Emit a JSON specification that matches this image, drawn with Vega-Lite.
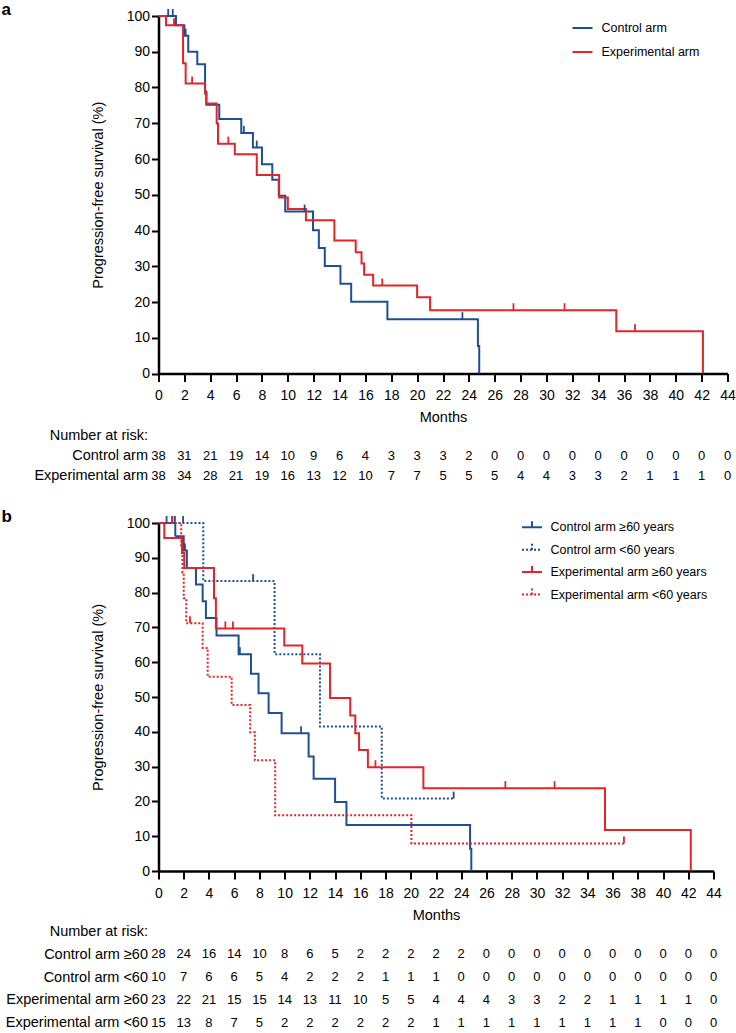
{
  "$schema": "https://vega.github.io/schema/vega-lite/v6.json",
  "background": "white",
  "autosize": {"type": "pad"},
  "padding": {"left": 1.5, "top": 0, "right": 0, "bottom": 0},
  "config": {
    "view": {"stroke": null},
    "font": "Liberation Sans",
    "axis": {
      "grid": false, "domainColor": "black", "domainWidth": 2.5,
      "tickColor": "black", "tickWidth": 2, "tickSize": 7,
      "labelColor": "black", "labelFontSize": 14, "labelFont": "Liberation Sans",
      "titleColor": "black", "titleFont": "Liberation Sans", "titleFontSize": 14.5, "titleFontWeight": "normal",
      "labelOverlap": false, "labelFlush": false, "labelBound": false
    },
    "title": {"font": "Liberation Sans", "fontSize": 17, "fontWeight": "bold", "color": "black", "anchor": "start", "frame": "group"},
    "legend": {"labelFont": "Liberation Sans", "labelFontSize": 12.5, "labelColor": "black", "padding": 0}
  },
  "datasets": {
    "a_curve": [
      {"g": "Control arm", "t": 0, "s": 100}, {"g": "Control arm", "t": 1.35, "s": 97.4}, {"g": "Control arm", "t": 2.0, "s": 94.5},
      {"g": "Control arm", "t": 2.3, "s": 90.0}, {"g": "Control arm", "t": 3.0, "s": 86.5}, {"g": "Control arm", "t": 3.6, "s": 78.9},
      {"g": "Control arm", "t": 3.7, "s": 75.2}, {"g": "Control arm", "t": 4.7, "s": 71.2}, {"g": "Control arm", "t": 6.4, "s": 67.3},
      {"g": "Control arm", "t": 7.3, "s": 63.2}, {"g": "Control arm", "t": 8.0, "s": 58.5}, {"g": "Control arm", "t": 8.8, "s": 54.2},
      {"g": "Control arm", "t": 9.3, "s": 49.7}, {"g": "Control arm", "t": 9.8, "s": 45.3}, {"g": "Control arm", "t": 11.95, "s": 40.1},
      {"g": "Control arm", "t": 12.4, "s": 35.1}, {"g": "Control arm", "t": 12.86, "s": 30.1}, {"g": "Control arm", "t": 14.07, "s": 25.1},
      {"g": "Control arm", "t": 14.9, "s": 20.1}, {"g": "Control arm", "t": 17.7, "s": 15.2}, {"g": "Control arm", "t": 24.7, "s": 7.7},
      {"g": "Control arm", "t": 24.8, "s": 0},
      {"g": "Experimental arm", "t": 0, "s": 100}, {"g": "Experimental arm", "t": 0.58, "s": 97.4}, {"g": "Experimental arm", "t": 1.9, "s": 86.8},
      {"g": "Experimental arm", "t": 2.1, "s": 81.1}, {"g": "Experimental arm", "t": 3.6, "s": 78.3}, {"g": "Experimental arm", "t": 3.7, "s": 75.5},
      {"g": "Experimental arm", "t": 4.5, "s": 69.9}, {"g": "Experimental arm", "t": 4.6, "s": 64.3}, {"g": "Experimental arm", "t": 5.9, "s": 61.3},
      {"g": "Experimental arm", "t": 7.6, "s": 55.5}, {"g": "Experimental arm", "t": 9.33, "s": 49.2}, {"g": "Experimental arm", "t": 10.0, "s": 46.0},
      {"g": "Experimental arm", "t": 11.4, "s": 42.9}, {"g": "Experimental arm", "t": 13.6, "s": 37.2}, {"g": "Experimental arm", "t": 15.25, "s": 33.9},
      {"g": "Experimental arm", "t": 15.7, "s": 30.8}, {"g": "Experimental arm", "t": 15.9, "s": 27.6}, {"g": "Experimental arm", "t": 16.6, "s": 24.6},
      {"g": "Experimental arm", "t": 20.0, "s": 21.3}, {"g": "Experimental arm", "t": 21.0, "s": 17.7}, {"g": "Experimental arm", "t": 35.4, "s": 11.8},
      {"g": "Experimental arm", "t": 42.1, "s": 0}
    ],
    "a_cens": [
      {"g": "Control arm", "t": 0.75, "s": 100}, {"g": "Control arm", "t": 1.1, "s": 100}, {"g": "Control arm", "t": 2.1, "s": 94.5},
      {"g": "Control arm", "t": 6.6, "s": 67.3}, {"g": "Control arm", "t": 7.6, "s": 63.2}, {"g": "Control arm", "t": 11.3, "s": 45.3},
      {"g": "Control arm", "t": 23.5, "s": 15.2},
      {"g": "Experimental arm", "t": 1.2, "s": 97.4}, {"g": "Experimental arm", "t": 2.6, "s": 81.1}, {"g": "Experimental arm", "t": 5.4, "s": 64.3},
      {"g": "Experimental arm", "t": 17.3, "s": 24.6}, {"g": "Experimental arm", "t": 27.45, "s": 17.7}, {"g": "Experimental arm", "t": 31.4, "s": 17.7},
      {"g": "Experimental arm", "t": 36.85, "s": 11.8}
    ],
    "a_risk": [
      {"r": "Control arm", "t": 0, "n": 38}, {"r": "Control arm", "t": 2, "n": 31}, {"r": "Control arm", "t": 4, "n": 21}, {"r": "Control arm", "t": 6, "n": 19},
      {"r": "Control arm", "t": 8, "n": 14}, {"r": "Control arm", "t": 10, "n": 10}, {"r": "Control arm", "t": 12, "n": 9}, {"r": "Control arm", "t": 14, "n": 6},
      {"r": "Control arm", "t": 16, "n": 4}, {"r": "Control arm", "t": 18, "n": 3}, {"r": "Control arm", "t": 20, "n": 3}, {"r": "Control arm", "t": 22, "n": 3},
      {"r": "Control arm", "t": 24, "n": 2}, {"r": "Control arm", "t": 26, "n": 0}, {"r": "Control arm", "t": 28, "n": 0}, {"r": "Control arm", "t": 30, "n": 0},
      {"r": "Control arm", "t": 32, "n": 0}, {"r": "Control arm", "t": 34, "n": 0}, {"r": "Control arm", "t": 36, "n": 0}, {"r": "Control arm", "t": 38, "n": 0},
      {"r": "Control arm", "t": 40, "n": 0}, {"r": "Control arm", "t": 42, "n": 0}, {"r": "Control arm", "t": 44, "n": 0},
      {"r": "Experimental arm", "t": 0, "n": 38}, {"r": "Experimental arm", "t": 2, "n": 34}, {"r": "Experimental arm", "t": 4, "n": 28}, {"r": "Experimental arm", "t": 6, "n": 21},
      {"r": "Experimental arm", "t": 8, "n": 19}, {"r": "Experimental arm", "t": 10, "n": 16}, {"r": "Experimental arm", "t": 12, "n": 13}, {"r": "Experimental arm", "t": 14, "n": 12},
      {"r": "Experimental arm", "t": 16, "n": 10}, {"r": "Experimental arm", "t": 18, "n": 7}, {"r": "Experimental arm", "t": 20, "n": 7}, {"r": "Experimental arm", "t": 22, "n": 5},
      {"r": "Experimental arm", "t": 24, "n": 5}, {"r": "Experimental arm", "t": 26, "n": 5}, {"r": "Experimental arm", "t": 28, "n": 4}, {"r": "Experimental arm", "t": 30, "n": 4},
      {"r": "Experimental arm", "t": 32, "n": 3}, {"r": "Experimental arm", "t": 34, "n": 3}, {"r": "Experimental arm", "t": 36, "n": 2}, {"r": "Experimental arm", "t": 38, "n": 1},
      {"r": "Experimental arm", "t": 40, "n": 1}, {"r": "Experimental arm", "t": 42, "n": 1}, {"r": "Experimental arm", "t": 44, "n": 0}
    ],
    "b_curve": [
      {"g": "Control arm ≥60 years", "t": 0, "s": 100}, {"g": "Control arm ≥60 years", "t": 1.33, "s": 96.2}, {"g": "Control arm ≥60 years", "t": 2.0, "s": 92.1},
      {"g": "Control arm ≥60 years", "t": 2.25, "s": 87.1}, {"g": "Control arm ≥60 years", "t": 2.97, "s": 82.3}, {"g": "Control arm ≥60 years", "t": 3.5, "s": 77.5},
      {"g": "Control arm ≥60 years", "t": 3.76, "s": 72.7}, {"g": "Control arm ≥60 years", "t": 4.6, "s": 67.7}, {"g": "Control arm ≥60 years", "t": 6.35, "s": 62.3},
      {"g": "Control arm ≥60 years", "t": 7.33, "s": 56.7}, {"g": "Control arm ≥60 years", "t": 7.93, "s": 51.1}, {"g": "Control arm ≥60 years", "t": 8.73, "s": 45.4},
      {"g": "Control arm ≥60 years", "t": 9.76, "s": 39.6}, {"g": "Control arm ≥60 years", "t": 11.9, "s": 32.9}, {"g": "Control arm ≥60 years", "t": 12.3, "s": 26.5},
      {"g": "Control arm ≥60 years", "t": 14.0, "s": 19.8}, {"g": "Control arm ≥60 years", "t": 14.9, "s": 13.2}, {"g": "Control arm ≥60 years", "t": 24.7, "s": 6.4},
      {"g": "Control arm ≥60 years", "t": 24.8, "s": 0},
      {"g": "Control arm <60 years", "t": 0, "s": 100}, {"g": "Control arm <60 years", "t": 3.55, "s": 83.3}, {"g": "Control arm <60 years", "t": 9.2, "s": 62.3},
      {"g": "Control arm <60 years", "t": 12.8, "s": 41.5}, {"g": "Control arm <60 years", "t": 17.7, "s": 20.8}, {"g": "Control arm <60 years", "t": 23.4, "s": 20.8},
      {"g": "Experimental arm ≥60 years", "t": 0, "s": 100}, {"g": "Experimental arm ≥60 years", "t": 0.46, "s": 95.7}, {"g": "Experimental arm ≥60 years", "t": 1.86, "s": 91.4},
      {"g": "Experimental arm ≥60 years", "t": 2.04, "s": 87.1}, {"g": "Experimental arm ≥60 years", "t": 4.4, "s": 78.4}, {"g": "Experimental arm ≥60 years", "t": 4.55, "s": 69.7},
      {"g": "Experimental arm ≥60 years", "t": 9.97, "s": 64.8}, {"g": "Experimental arm ≥60 years", "t": 11.4, "s": 59.6}, {"g": "Experimental arm ≥60 years", "t": 13.6, "s": 49.7},
      {"g": "Experimental arm ≥60 years", "t": 15.2, "s": 44.7}, {"g": "Experimental arm ≥60 years", "t": 15.6, "s": 39.6}, {"g": "Experimental arm ≥60 years", "t": 15.9, "s": 34.8},
      {"g": "Experimental arm ≥60 years", "t": 16.6, "s": 29.8}, {"g": "Experimental arm ≥60 years", "t": 21.0, "s": 23.8}, {"g": "Experimental arm ≥60 years", "t": 35.4, "s": 11.8},
      {"g": "Experimental arm ≥60 years", "t": 42.2, "s": 0},
      {"g": "Experimental arm <60 years", "t": 0, "s": 100}, {"g": "Experimental arm <60 years", "t": 1.8, "s": 92.9}, {"g": "Experimental arm <60 years", "t": 1.9, "s": 85.7},
      {"g": "Experimental arm <60 years", "t": 2.0, "s": 78.4}, {"g": "Experimental arm <60 years", "t": 2.2, "s": 71.2}, {"g": "Experimental arm <60 years", "t": 3.5, "s": 64.1},
      {"g": "Experimental arm <60 years", "t": 3.9, "s": 55.8}, {"g": "Experimental arm <60 years", "t": 5.8, "s": 47.7}, {"g": "Experimental arm <60 years", "t": 7.27, "s": 39.9},
      {"g": "Experimental arm <60 years", "t": 7.64, "s": 31.8}, {"g": "Experimental arm <60 years", "t": 9.25, "s": 16.0}, {"g": "Experimental arm <60 years", "t": 20.05, "s": 7.9},
      {"g": "Experimental arm <60 years", "t": 36.9, "s": 7.9}
    ],
    "b_cens": [
      {"g": "Control arm ≥60 years", "t": 1.1, "s": 100}, {"g": "Control arm ≥60 years", "t": 2.1, "s": 92.1}, {"g": "Control arm ≥60 years", "t": 6.45, "s": 62.3},
      {"g": "Control arm ≥60 years", "t": 11.3, "s": 39.6},
      {"g": "Control arm <60 years", "t": 0.64, "s": 100}, {"g": "Control arm <60 years", "t": 1.3, "s": 100}, {"g": "Control arm <60 years", "t": 1.95, "s": 100},
      {"g": "Control arm <60 years", "t": 7.5, "s": 83.3}, {"g": "Control arm <60 years", "t": 23.4, "s": 20.8},
      {"g": "Experimental arm ≥60 years", "t": 5.3, "s": 69.7}, {"g": "Experimental arm ≥60 years", "t": 5.9, "s": 69.7}, {"g": "Experimental arm ≥60 years", "t": 17.2, "s": 29.8},
      {"g": "Experimental arm ≥60 years", "t": 27.5, "s": 23.8}, {"g": "Experimental arm ≥60 years", "t": 31.4, "s": 23.8},
      {"g": "Experimental arm <60 years", "t": 1.07, "s": 100}, {"g": "Experimental arm <60 years", "t": 2.5, "s": 71.2}, {"g": "Experimental arm <60 years", "t": 36.9, "s": 7.9}
    ],
    "b_risk": [
      {"r": "Control arm ≥60", "t": 0, "n": 28}, {"r": "Control arm ≥60", "t": 2, "n": 24}, {"r": "Control arm ≥60", "t": 4, "n": 16}, {"r": "Control arm ≥60", "t": 6, "n": 14},
      {"r": "Control arm ≥60", "t": 8, "n": 10}, {"r": "Control arm ≥60", "t": 10, "n": 8}, {"r": "Control arm ≥60", "t": 12, "n": 6}, {"r": "Control arm ≥60", "t": 14, "n": 5},
      {"r": "Control arm ≥60", "t": 16, "n": 2}, {"r": "Control arm ≥60", "t": 18, "n": 2}, {"r": "Control arm ≥60", "t": 20, "n": 2}, {"r": "Control arm ≥60", "t": 22, "n": 2},
      {"r": "Control arm ≥60", "t": 24, "n": 2}, {"r": "Control arm ≥60", "t": 26, "n": 0}, {"r": "Control arm ≥60", "t": 28, "n": 0}, {"r": "Control arm ≥60", "t": 30, "n": 0},
      {"r": "Control arm ≥60", "t": 32, "n": 0}, {"r": "Control arm ≥60", "t": 34, "n": 0}, {"r": "Control arm ≥60", "t": 36, "n": 0}, {"r": "Control arm ≥60", "t": 38, "n": 0},
      {"r": "Control arm ≥60", "t": 40, "n": 0}, {"r": "Control arm ≥60", "t": 42, "n": 0}, {"r": "Control arm ≥60", "t": 44, "n": 0},
      {"r": "Control arm <60", "t": 0, "n": 10}, {"r": "Control arm <60", "t": 2, "n": 7}, {"r": "Control arm <60", "t": 4, "n": 6}, {"r": "Control arm <60", "t": 6, "n": 6},
      {"r": "Control arm <60", "t": 8, "n": 5}, {"r": "Control arm <60", "t": 10, "n": 4}, {"r": "Control arm <60", "t": 12, "n": 2}, {"r": "Control arm <60", "t": 14, "n": 2},
      {"r": "Control arm <60", "t": 16, "n": 2}, {"r": "Control arm <60", "t": 18, "n": 1}, {"r": "Control arm <60", "t": 20, "n": 1}, {"r": "Control arm <60", "t": 22, "n": 1},
      {"r": "Control arm <60", "t": 24, "n": 0}, {"r": "Control arm <60", "t": 26, "n": 0}, {"r": "Control arm <60", "t": 28, "n": 0}, {"r": "Control arm <60", "t": 30, "n": 0},
      {"r": "Control arm <60", "t": 32, "n": 0}, {"r": "Control arm <60", "t": 34, "n": 0}, {"r": "Control arm <60", "t": 36, "n": 0}, {"r": "Control arm <60", "t": 38, "n": 0},
      {"r": "Control arm <60", "t": 40, "n": 0}, {"r": "Control arm <60", "t": 42, "n": 0}, {"r": "Control arm <60", "t": 44, "n": 0},
      {"r": "Experimental arm ≥60", "t": 0, "n": 23}, {"r": "Experimental arm ≥60", "t": 2, "n": 22}, {"r": "Experimental arm ≥60", "t": 4, "n": 21}, {"r": "Experimental arm ≥60", "t": 6, "n": 15},
      {"r": "Experimental arm ≥60", "t": 8, "n": 15}, {"r": "Experimental arm ≥60", "t": 10, "n": 14}, {"r": "Experimental arm ≥60", "t": 12, "n": 13}, {"r": "Experimental arm ≥60", "t": 14, "n": 11},
      {"r": "Experimental arm ≥60", "t": 16, "n": 10}, {"r": "Experimental arm ≥60", "t": 18, "n": 5}, {"r": "Experimental arm ≥60", "t": 20, "n": 5}, {"r": "Experimental arm ≥60", "t": 22, "n": 4},
      {"r": "Experimental arm ≥60", "t": 24, "n": 4}, {"r": "Experimental arm ≥60", "t": 26, "n": 4}, {"r": "Experimental arm ≥60", "t": 28, "n": 3}, {"r": "Experimental arm ≥60", "t": 30, "n": 3},
      {"r": "Experimental arm ≥60", "t": 32, "n": 2}, {"r": "Experimental arm ≥60", "t": 34, "n": 2}, {"r": "Experimental arm ≥60", "t": 36, "n": 1}, {"r": "Experimental arm ≥60", "t": 38, "n": 1},
      {"r": "Experimental arm ≥60", "t": 40, "n": 1}, {"r": "Experimental arm ≥60", "t": 42, "n": 1}, {"r": "Experimental arm ≥60", "t": 44, "n": 0},
      {"r": "Experimental arm <60", "t": 0, "n": 15}, {"r": "Experimental arm <60", "t": 2, "n": 13}, {"r": "Experimental arm <60", "t": 4, "n": 8}, {"r": "Experimental arm <60", "t": 6, "n": 7},
      {"r": "Experimental arm <60", "t": 8, "n": 5}, {"r": "Experimental arm <60", "t": 10, "n": 2}, {"r": "Experimental arm <60", "t": 12, "n": 2}, {"r": "Experimental arm <60", "t": 14, "n": 2},
      {"r": "Experimental arm <60", "t": 16, "n": 2}, {"r": "Experimental arm <60", "t": 18, "n": 2}, {"r": "Experimental arm <60", "t": 20, "n": 2}, {"r": "Experimental arm <60", "t": 22, "n": 1},
      {"r": "Experimental arm <60", "t": 24, "n": 1}, {"r": "Experimental arm <60", "t": 26, "n": 1}, {"r": "Experimental arm <60", "t": 28, "n": 1}, {"r": "Experimental arm <60", "t": 30, "n": 1},
      {"r": "Experimental arm <60", "t": 32, "n": 1}, {"r": "Experimental arm <60", "t": 34, "n": 1}, {"r": "Experimental arm <60", "t": 36, "n": 1}, {"r": "Experimental arm <60", "t": 38, "n": 1},
      {"r": "Experimental arm <60", "t": 40, "n": 0}, {"r": "Experimental arm <60", "t": 42, "n": 0}, {"r": "Experimental arm <60", "t": 44, "n": 0}
    ]
  },
  "resolve": {
    "scale": {"color": "independent", "strokeDash": "independent", "x": "independent", "y": "independent"},
    "legend": {"color": "independent", "strokeDash": "independent"}
  },
  "spacing": 21,
  "vconcat": [
    {
      "spacing": 1.5,
      "vconcat": [
        {
          "width": 569,
          "height": 357.5,
          "title": {"text": "a", "dx": -157, "offset": -13.5},
          "encoding": {
            "x": {"field": "t", "type": "quantitative", "scale": {"domain": [0, 44], "nice": false},
              "axis": {"values": [0,2,4,6,8,10,12,14,16,18,20,22,24,26,28,30,32,34,36,38,40,42,44], "title": "Months", "tickSize": 8, "labelPadding": 7, "titlePadding": 8}},
            "y": {"field": "s", "type": "quantitative", "scale": {"domain": [0, 100], "nice": false},
              "axis": {"values": [0,10,20,30,40,50,60,70,80,90,100], "title": "Progression-free survival (%)", "labelPadding": 2, "titlePadding": 21}},
            "color": {"field": "g", "type": "nominal",
              "scale": {"domain": ["Control arm", "Experimental arm"], "range": ["#1e4f94", "#e1252b"]},
              "legend": {"title": null, "orient": "none", "legendX": 413, "legendY": 1, "symbolType": "M-1,0H1", "symbolSize": 400, "symbolStrokeWidth": 2, "labelOffset": 8, "rowPadding": 6}}
          },
          "layer": [
            {"data": {"name": "a_curve"}, "mark": {"type": "line", "interpolate": "step-after", "strokeWidth": 2}},
            {"data": {"name": "a_cens"}, "mark": {"type": "point", "shape": "M0,0V-1", "size": 196, "filled": false, "strokeWidth": 1.8, "opacity": 1}}
          ]
        },
        {
          "width": 569,
          "height": 60,
          "data": {"name": "a_risk"},
          "mark": {"type": "text", "fontSize": 13, "font": "Liberation Sans", "color": "black"},
          "encoding": {
            "x": {"field": "t", "type": "quantitative", "scale": {"domain": [0, 44], "nice": false}, "axis": null},
            "y": {"field": "r", "type": "nominal", "scale": {"domain": ["Number at risk:\u00a0", "Control arm", "Experimental arm"]},
              "axis": {"title": null, "domain": false, "ticks": false, "labelFontSize": 14.5, "labelPadding": 11}},
            "text": {"field": "n", "type": "quantitative"}
          }
        }
      ]
    },
    {
      "spacing": 0.5,
      "vconcat": [
        {
          "width": 555,
          "height": 348,
          "title": {"text": "b", "dx": -157, "offset": -13.5},
          "encoding": {
            "x": {"field": "t", "type": "quantitative", "scale": {"domain": [0, 44], "nice": false},
              "axis": {"values": [0,2,4,6,8,10,12,14,16,18,20,22,24,26,28,30,32,34,36,38,40,42,44], "title": "Months", "tickSize": 8, "labelPadding": 7, "titlePadding": 8}},
            "y": {"field": "s", "type": "quantitative", "scale": {"domain": [0, 100], "nice": false},
              "axis": {"values": [0,10,20,30,40,50,60,70,80,90,100], "title": "Progression-free survival (%)", "labelPadding": 2, "titlePadding": 21}},
            "color": {"field": "g", "type": "nominal",
              "scale": {"domain": ["Control arm ≥60 years", "Control arm <60 years", "Experimental arm ≥60 years", "Experimental arm <60 years"], "range": ["#1e4f94", "#1e4f94", "#e1252b", "#e1252b"]},
              "legend": {"title": null, "orient": "none", "legendX": 362.5, "legendY": -6.7, "symbolType": "M-1,0H1M0,0V-0.6", "symbolSize": 400, "symbolStrokeWidth": 2, "labelOffset": 7.5, "rowPadding": 4.4}}
          },
          "layer": [
            {"data": {"name": "b_curve"}, "mark": {"type": "line", "interpolate": "step-after", "strokeWidth": 2},
              "encoding": {"strokeDash": {"field": "g", "type": "nominal",
                "scale": {"domain": ["Control arm ≥60 years", "Control arm <60 years", "Experimental arm ≥60 years", "Experimental arm <60 years"], "range": [[1, 0], [2, 2], [1, 0], [2, 2]]},
                "legend": {"title": null, "orient": "none", "legendX": 362.5, "legendY": -6.7, "symbolType": "M-1,0H1M0,0V-0.6", "symbolSize": 400, "symbolStrokeWidth": 2, "labelOffset": 7.5, "rowPadding": 4.4}}}},
            {"data": {"name": "b_cens"}, "mark": {"type": "point", "shape": "M0,0V-1", "size": 196, "filled": false, "strokeWidth": 1.8, "opacity": 1}}
          ]
        },
        {
          "width": 555,
          "height": 107,
          "data": {"name": "b_risk"},
          "mark": {"type": "text", "fontSize": 13, "font": "Liberation Sans", "color": "black"},
          "encoding": {
            "x": {"field": "t", "type": "quantitative", "scale": {"domain": [0, 44], "nice": false}, "axis": null},
            "y": {"field": "r", "type": "nominal", "scale": {"domain": ["Number at risk:\u00a0", "Control arm ≥60", "Control arm <60", "Experimental arm ≥60", "Experimental arm <60"], "padding": 0.33},
              "axis": {"title": null, "domain": false, "ticks": false, "labelFontSize": 14.5, "labelPadding": 11}},
            "text": {"field": "n", "type": "quantitative"}
          }
        }
      ]
    }
  ]
}
